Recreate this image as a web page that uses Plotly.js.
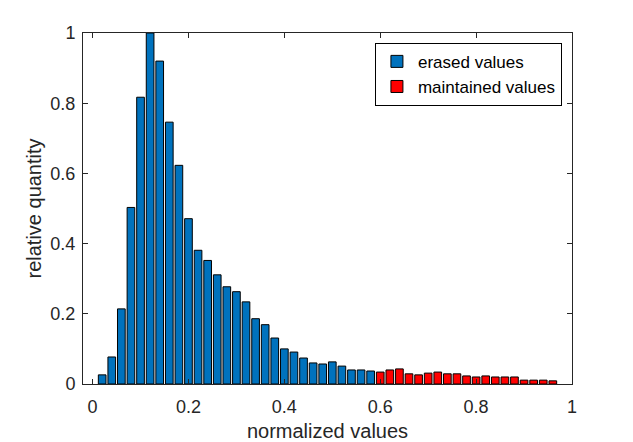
<!DOCTYPE html>
<html>
<head>
<meta charset="utf-8">
<script src="https://cdn.plot.ly/plotly-3.0.1.min.js"></script>
<style>html,body{margin:0;padding:0;background:#fff;}#chart{width:633px;height:442px;}</style>
</head>
<body>
<div id="chart"></div>
<script>
const erasedX = [0.02,0.04,0.06,0.08,0.10,0.12,0.14,0.16,0.18,0.20,0.22,0.24,0.26,0.28,0.30,0.32,0.34,0.36,0.38,0.40,0.42,0.44,0.46,0.48,0.50,0.52,0.54,0.56,0.58];
const erasedY = [0.026,0.077,0.214,0.503,0.817,1.0,0.92,0.746,0.623,0.471,0.381,0.352,0.311,0.277,0.263,0.234,0.186,0.169,0.131,0.100,0.091,0.074,0.060,0.057,0.063,0.051,0.040,0.040,0.037];
const maintainedX = [0.60,0.62,0.64,0.66,0.68,0.70,0.72,0.74,0.76,0.78,0.80,0.82,0.84,0.86,0.88,0.90,0.92,0.94,0.96];
const maintainedY = [0.034,0.040,0.043,0.029,0.026,0.031,0.034,0.029,0.029,0.023,0.020,0.023,0.020,0.020,0.020,0.011,0.011,0.011,0.009];
const xTicks = [0,0.2,0.4,0.6,0.8,1];
const xTickText = ['0','0.2','0.4','0.6','0.8','1'];
const yTicks = [0,0.2,0.4,0.6,0.8,1];
const yTickText = ['0','0.2','0.4','0.6','0.8','1'];

const ink = '#262626';
const fontFam = 'Liberation Sans, Arial, sans-serif';

const traces = [
  {type:'bar', name:'erased values', x:erasedX, y:erasedY, width:0.016,
   marker:{color:'#0072BD', line:{color:'#000', width:1}}},
  {type:'bar', name:'maintained values', x:maintainedX, y:maintainedY, width:0.016,
   marker:{color:'#FF0000', line:{color:'#000', width:1}}}
];

const axisCommon = {
  showgrid:false, zeroline:false, showline:true, linecolor:ink, linewidth:1,
  mirror:'ticks', ticks:'inside', ticklen:5, tickcolor:ink, tickwidth:1,
  tickfont:{family:fontFam, size:18, color:ink}
};

const layout = {
  width:633, height:442,
  margin:{l:83, r:61, t:33, b:58, pad:0},
  paper_bgcolor:'#fff', plot_bgcolor:'#fff',
  barmode:'overlay',
  showlegend:true,
  legend:{x:0.597, y:0.972, xanchor:'left', yanchor:'top',
    bgcolor:'#fff', bordercolor:'#000', borderwidth:1,
    font:{family:fontFam, size:17, color:'#000'}, tracegroupgap:0, itemwidth:32},
  xaxis:Object.assign({}, axisCommon, {range:[-0.02,1], tickvals:xTicks, ticktext:xTickText,
    ticklabelstandoff:6,
    title:{text:'normalized values', font:{family:fontFam, size:20, color:ink}, standoff:10}}),
  yaxis:Object.assign({}, axisCommon, {range:[0,1], tickvals:yTicks, ticktext:yTickText,
    ticklabelstandoff:3,
    title:{text:'relative quantity', font:{family:fontFam, size:20, color:ink}, standoff:3}})
};

Plotly.newPlot('chart', traces, layout, {displayModeBar:false, staticPlot:true});
</script>
</body>
</html>
